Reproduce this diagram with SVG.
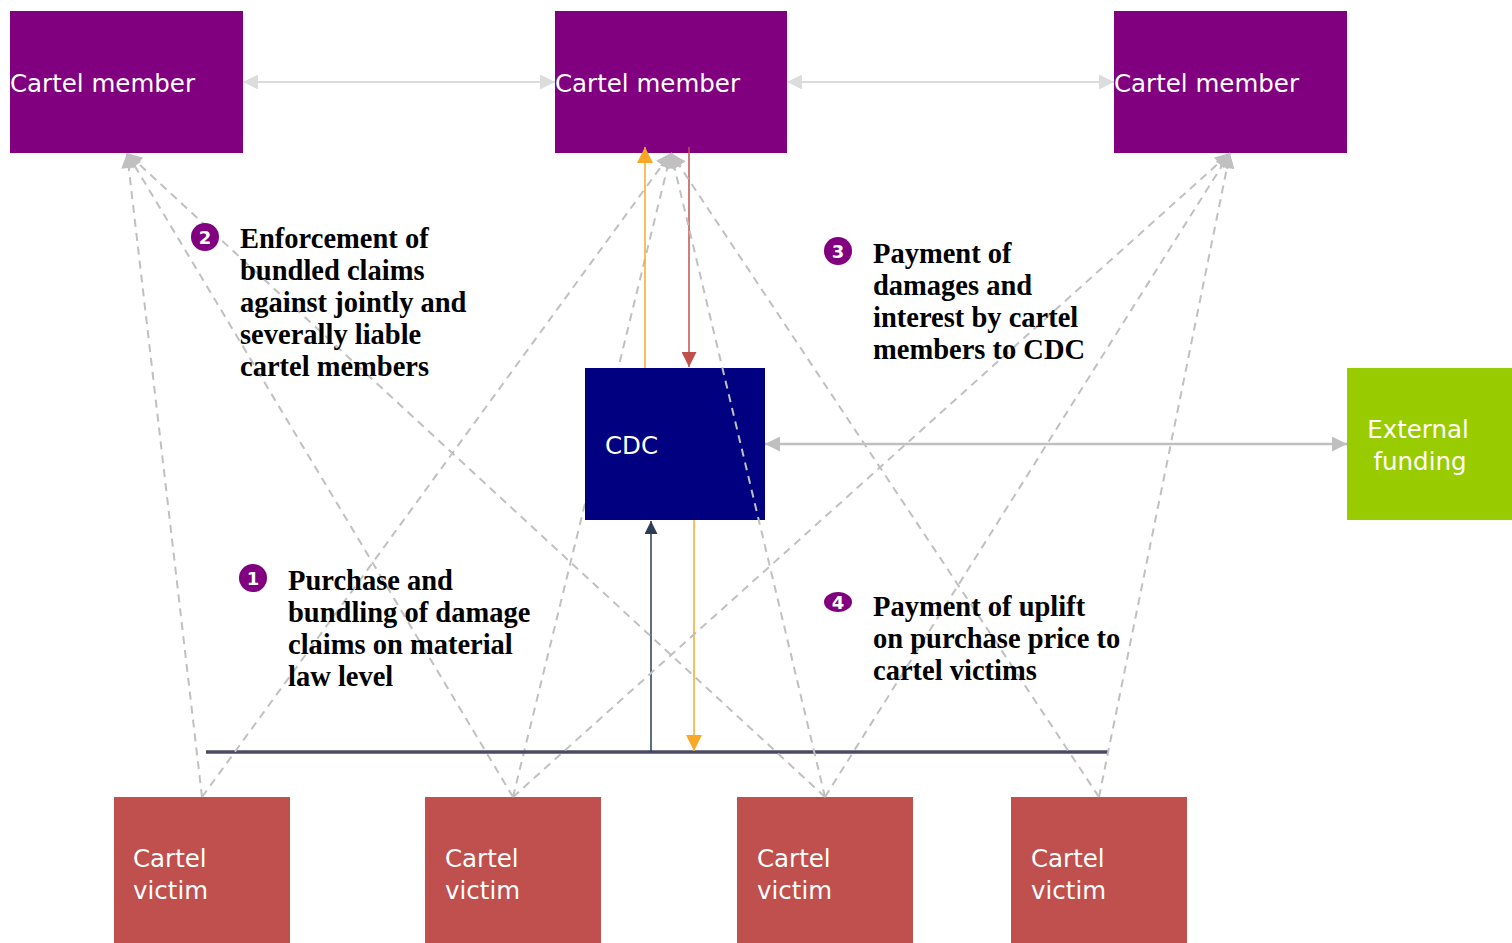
<svg xmlns="http://www.w3.org/2000/svg" width="1512" height="943" viewBox="0 0 1512 943">
<style>
.node text{font-family:"DejaVu Sans","Noto Sans",sans-serif;font-size:24.5px;fill:#ffffff}
.note{font-family:"Liberation Serif","Times New Roman",serif;font-weight:bold;font-size:28.5px;fill:#000000}
.num{font-family:"DejaVu Sans","Noto Sans",sans-serif;font-weight:bold;font-size:18px;fill:#ffffff;text-anchor:middle}
.dash{stroke:#c0c0c0;stroke-width:2;stroke-dasharray:8 6;fill:none}
</style>
<defs>
<marker id="ahDash" viewBox="0 0 10 10" refX="10" refY="5" markerUnits="userSpaceOnUse" markerWidth="17" markerHeight="15" orient="auto"><path d="M0,0 L10,5 L0,10 z" fill="#c0c0c0"/></marker>
<marker id="ahLight" viewBox="0 0 10 10" refX="10" refY="5" markerUnits="userSpaceOnUse" markerWidth="16" markerHeight="15" orient="auto-start-reverse"><path d="M0,0 L10,5 L0,10 z" fill="#dcdcdc"/></marker>
<marker id="ahGray" viewBox="0 0 10 10" refX="10" refY="5" markerUnits="userSpaceOnUse" markerWidth="16" markerHeight="15" orient="auto-start-reverse"><path d="M0,0 L10,5 L0,10 z" fill="#bfbfbf"/></marker>
<marker id="ahOrange" viewBox="0 0 10 10" refX="10" refY="5" markerUnits="userSpaceOnUse" markerWidth="16" markerHeight="16" orient="auto"><path d="M0,0 L10,5 L0,10 z" fill="#f9a825"/></marker>
<marker id="ahRed" viewBox="0 0 10 10" refX="10" refY="5" markerUnits="userSpaceOnUse" markerWidth="16" markerHeight="15" orient="auto"><path d="M0,0 L10,5 L0,10 z" fill="#c0504d"/></marker>
<marker id="ahNavy" viewBox="0 0 10 10" refX="10" refY="5" markerUnits="userSpaceOnUse" markerWidth="15" markerHeight="13" orient="auto"><path d="M0,0 L10,5 L0,10 z" fill="#2e3b55"/></marker>
</defs>
<rect width="1512" height="943" fill="#ffffff"/>

<g id="connectors-behind">
<line class="dash" x1="513" y1="797" x2="671" y2="153" marker-end="url(#ahDash)"/>
</g>

<g id="member-left" class="node"><rect x="10" y="11" width="233" height="142" fill="#800080"/><text x="10" y="92">Cartel member</text></g>
<g id="member-middle" class="node"><rect x="555" y="11" width="232" height="142" fill="#800080"/><text x="555" y="92">Cartel member</text></g>
<g id="member-right" class="node"><rect x="1114" y="11" width="233" height="142" fill="#800080"/><text x="1114" y="92">Cartel member</text></g>
<g id="cdc" class="node"><rect x="585" y="368" width="180" height="152" fill="#000080"/><text x="605" y="454">CDC</text></g>
<g id="external-funding" class="node"><rect x="1347" y="368" width="165" height="152" fill="#99cc00"/><text x="1418" y="438" text-anchor="middle">External</text><text x="1420" y="470" text-anchor="middle">funding</text></g>
<g id="victim-1" class="node"><rect x="114" y="797" width="176" height="146" fill="#c0504d"/><text x="133" y="867">Cartel</text><text x="133" y="899">victim</text></g>
<g id="victim-2" class="node"><rect x="425" y="797" width="176" height="146" fill="#c0504d"/><text x="445" y="867">Cartel</text><text x="445" y="899">victim</text></g>
<g id="victim-3" class="node"><rect x="737" y="797" width="176" height="146" fill="#c0504d"/><text x="757" y="867">Cartel</text><text x="757" y="899">victim</text></g>
<g id="victim-4" class="node"><rect x="1011" y="797" width="176" height="146" fill="#c0504d"/><text x="1031" y="867">Cartel</text><text x="1031" y="899">victim</text></g>

<g id="connectors">
<line x1="206" y1="752" x2="1108" y2="752" stroke="#4a4a66" stroke-width="3.5"/>
<line x1="243" y1="82" x2="555" y2="82" stroke="#dcdcdc" stroke-width="2" marker-start="url(#ahLight)" marker-end="url(#ahLight)"/>
<line x1="787" y1="82" x2="1114" y2="82" stroke="#dcdcdc" stroke-width="2" marker-start="url(#ahLight)" marker-end="url(#ahLight)"/>
<line x1="765" y1="444" x2="1347" y2="444" stroke="#bfbfbf" stroke-width="2.5" marker-start="url(#ahGray)" marker-end="url(#ahGray)"/>
<line x1="645" y1="368" x2="645" y2="147" stroke="#f9a825" stroke-width="1.5" marker-end="url(#ahOrange)"/>
<line x1="689" y1="147" x2="689" y2="367" stroke="#c0504d" stroke-width="1.5" marker-end="url(#ahRed)"/>
<line x1="651" y1="752" x2="651" y2="521" stroke="#2e3b55" stroke-width="1.5" marker-end="url(#ahNavy)"/>
<line x1="694" y1="520" x2="694" y2="751" stroke="#f9a825" stroke-width="1.5" marker-end="url(#ahOrange)"/>

<line class="dash" x1="202" y1="797" x2="127" y2="153" marker-end="url(#ahDash)"/>
<line class="dash" x1="202" y1="797" x2="671" y2="153" marker-end="url(#ahDash)"/>
<line class="dash" x1="513" y1="797" x2="127" y2="153" marker-end="url(#ahDash)"/>
<line class="dash" x1="513" y1="797" x2="1230" y2="153" marker-end="url(#ahDash)"/>
<line class="dash" x1="825" y1="797" x2="127" y2="153" marker-end="url(#ahDash)"/>
<line class="dash" x1="825" y1="797" x2="671" y2="153" marker-end="url(#ahDash)"/>
<line class="dash" x1="825" y1="797" x2="1230" y2="153" marker-end="url(#ahDash)"/>
<line class="dash" x1="1099" y1="797" x2="671" y2="153" marker-end="url(#ahDash)"/>
<line class="dash" x1="1099" y1="797" x2="1230" y2="153" marker-end="url(#ahDash)"/>
</g>

<g id="labels">
<g id="label-2"><circle cx="205" cy="237" r="14" fill="#800080"/><text class="num" x="205" y="243.5">2</text>
<text class="note"><tspan x="240" y="248">Enforcement of</tspan><tspan x="240" y="280">bundled claims</tspan><tspan x="240" y="312">against jointly and</tspan><tspan x="240" y="344">severally liable</tspan><tspan x="240" y="376">cartel members</tspan></text></g>
<g id="label-3"><circle cx="838" cy="251" r="14" fill="#800080"/><text class="num" x="838" y="257.5">3</text>
<text class="note"><tspan x="873" y="263">Payment of</tspan><tspan x="873" y="295">damages and</tspan><tspan x="873" y="327">interest by cartel</tspan><tspan x="873" y="359">members to CDC</tspan></text></g>
<g id="label-1"><circle cx="253" cy="578" r="14" fill="#800080"/><text class="num" x="253" y="584.5">1</text>
<text class="note"><tspan x="288" y="590">Purchase and</tspan><tspan x="288" y="622">bundling of damage</tspan><tspan x="288" y="654">claims on material</tspan><tspan x="288" y="686">law level</tspan></text></g>
<g id="label-4"><ellipse cx="838" cy="602" rx="14" ry="10" fill="#800080"/><text class="num" x="838" y="608.5">4</text>
<text class="note"><tspan x="873" y="616">Payment of uplift</tspan><tspan x="873" y="648">on purchase price to</tspan><tspan x="873" y="680">cartel victims</tspan></text></g>
</g>
</svg>
